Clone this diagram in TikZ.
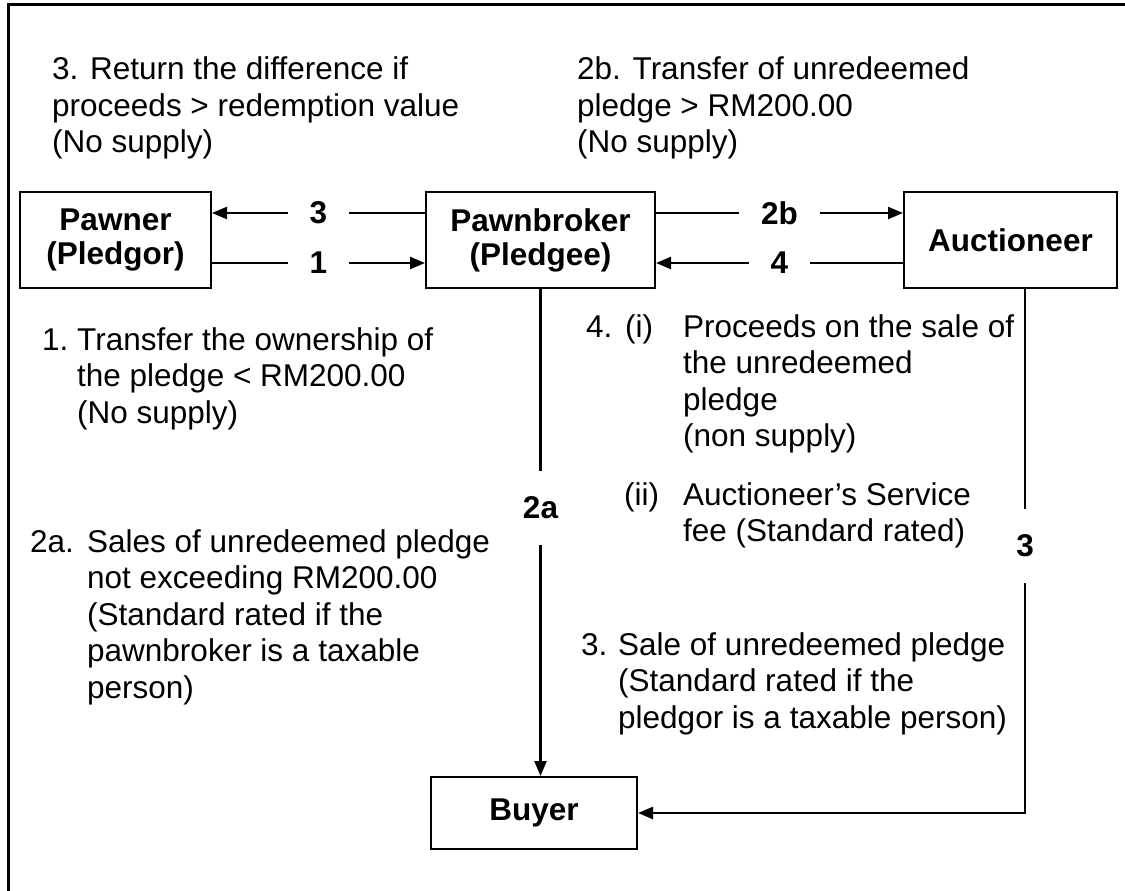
\documentclass[tikz,border=0pt]{standalone}
\usepackage{fontspec}
\setmainfont{Liberation Sans}
\usetikzlibrary{arrows.meta,calc}
\newcommand\bigfont{\fontsize{31.5}{36.5}\selectfont}
\newcommand\blk[1]{\begin{tabular}[t]{@{}l@{}}#1\end{tabular}}
\tikzset{
  box/.style={draw, line width=2pt, inner sep=0pt, align=center, font=\bfseries\fontsize{31.5}{34}\selectfont},
  conn/.style={line width=2.4pt},
  arr/.style={conn, -{Triangle[length=15pt,width=12pt]}},
  lab/.style={fill=white, inner xsep=22pt, inner ysep=3pt, font=\bfseries\bigfont},
  vlab/.style={fill=white, inner xsep=3pt, inner ysep=26pt, text height=22pt, text depth=0pt, font=\bfseries\bigfont},
  txt/.style={anchor=base west, inner sep=0pt, font=\bigfont},
  frame/.style={line width=3pt},
}
\begin{document}
\begin{tikzpicture}[x=1pt,y=-1pt]
\useasboundingbox (0,0) rectangle (1125,891);
\draw[frame] (8,891) -- (8,5) -- (1125,5);

% boxes
\node[box, minimum width=191pt, minimum height=96pt] (pawner) at (115.5,240) {Pawner\\(Pledgor)};
\node[box, minimum width=229pt, minimum height=96pt] (broker) at (540.5,240) {Pawnbroker\\(Pledgee)};
\node[box, minimum width=213pt, minimum height=96pt] (auct) at (1010.5,240) {Auctioneer};
\node[box, minimum width=206pt, minimum height=72pt] (buyer) at (534,813) {Buyer};

% horizontal connectors
\draw[arr] ([yshift=27pt]broker.west) -- node[lab]{3} ([yshift=27pt]pawner.east);
\draw[arr] ([yshift=-23pt]pawner.east) -- node[lab]{1} ([yshift=-23pt]broker.west);
\draw[arr] ([yshift=27pt]broker.east) -- node[lab]{2b} ([yshift=27pt]auct.west);
\draw[arr] ([yshift=-23pt]auct.west) -- node[lab]{4} ([yshift=-23pt]broker.east);

% vertical connectors
\draw[arr] (broker.south) -- node[vlab, pos=0.449]{2a} (broker.south |- buyer.north);
\path ([xshift=14.5pt]auct.south) coordinate (atop);
\coordinate (corner) at (atop |- buyer.east);
\draw[arr] (atop) -- node[vlab, pos=0.49]{3} (corner) -- (buyer.east);

% text blocks
\node[txt] (t3a) at (52,80) {\blk{3. Return the difference if\\proceeds > redemption value\\(No supply)}};

\node[txt] (t2b) at (577,80) {\blk{2b. Transfer of unredeemed\\pledge > RM200.00\\(No supply)}};

\node[txt] (n1) at (42,350) {1.};
\node[txt] (t1) at (77,350) {\blk{Transfer the ownership of\\the pledge < RM200.00\\(No supply)}};

\node[txt] (n4) at (586,337) {4.};
\node[txt] (n4i) at (625,337) {(i)};
\node[txt] (t4i) at (683,337) {\blk{Proceeds on the sale of\\the unredeemed\\pledge\\(non supply)}};
\node[txt] (n4ii) at (624,505) {(ii)};
\node[txt] (t4ii) at (683,505) {\blk{Auctioneer’s Service\\fee (Standard rated)}};

\node[txt] (n2a) at (30,552) {2a.};
\node[txt] (t2a) at (87,552) {\blk{Sales of unredeemed pledge\\not exceeding RM200.00\\(Standard rated if the\\pawnbroker is a taxable\\person)}};

\node[txt] (n3b) at (581,655) {3.};
\node[txt] (t3b) at (618,655) {\blk{Sale of unredeemed pledge\\(Standard rated if the\\pledgor is a taxable person)}};
\end{tikzpicture}
\end{document}
